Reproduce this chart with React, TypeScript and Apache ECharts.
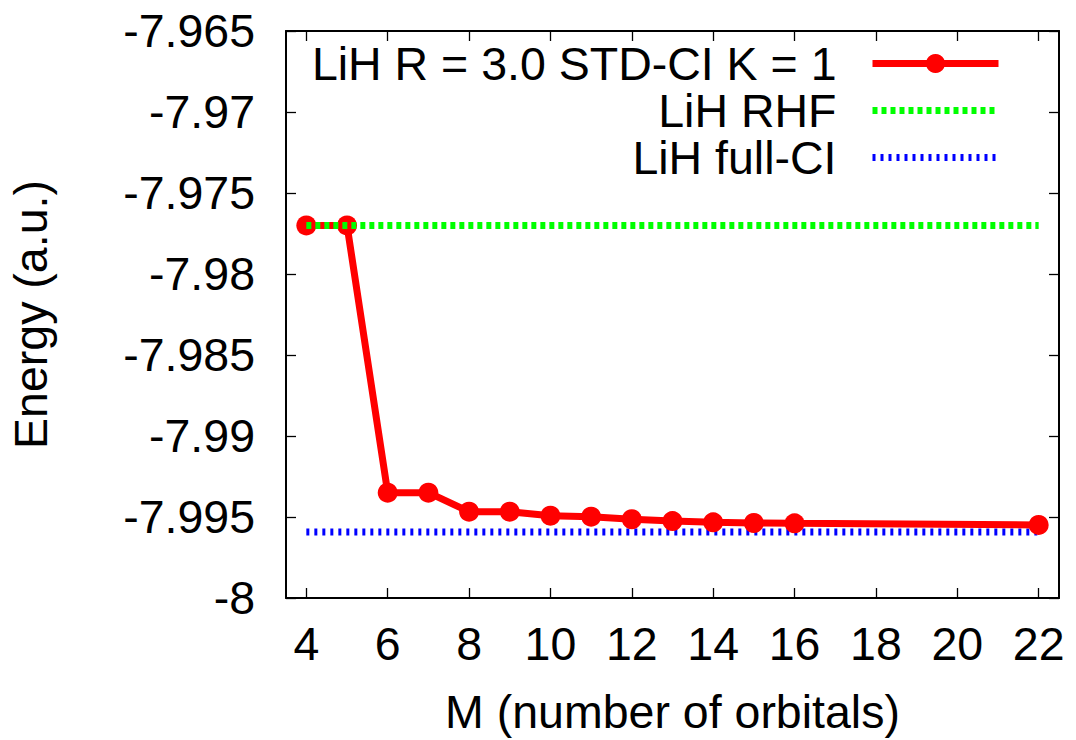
import { useEffect, useRef } from "react";
import * as echarts from "echarts";

// Number of orbitals M and the STD-CI (K = 1) energies for LiH at R = 3.0
const orbitals = [4, 5, 6, 7, 8, 9, 10, 11, 12, 13, 14, 15, 16, 22];
const stdCiEnergy = [
  -7.977, -7.977, -7.9935, -7.9935, -7.99467, -7.99467, -7.99492, -7.99498,
  -7.99514, -7.99525, -7.99533, -7.99537, -7.99539, -7.99549,
];

// Reference energies, drawn across the same M range
const referenceSpan = [4, 22];
const rhfEnergy = -7.977;
const fullCiEnergy = -7.99593;

const xTickValues = [4, 6, 8, 10, 12, 14, 16, 18, 20, 22];

const seriesNames = ["LiH R = 3.0 STD-CI K = 1", "LiH RHF", "LiH full-CI"];

const FONT = "'Liberation Sans', Arial, sans-serif";
const FONT_SIZE = 46.5;

export default function App() {
  const ref = useRef<HTMLDivElement>(null);

  useEffect(() => {
    if (!ref.current) return;
    const chart = echarts.init(ref.current, undefined, { renderer: "svg" });

    const frameLine = { show: true, lineStyle: { color: "#000", width: 2 } };
    const innerTick = (customValues?: number[]) => ({
      show: true,
      inside: true,
      length: 10,
      lineStyle: { color: "#000", width: 1.3 },
      ...(customValues ? { customValues } : {}),
    });

    const xCommon = {
      type: "value" as const,
      min: 3.5,
      max: 22.5,
      splitLine: { show: false },
      axisLine: frameLine,
    };
    const yCommon = {
      type: "value" as const,
      min: -8,
      max: -7.965,
      interval: 0.005,
      splitLine: { show: false },
      axisLine: frameLine,
    };

    chart.setOption({
      animation: false,
      backgroundColor: "#fff",
      textStyle: { fontFamily: FONT },
      grid: {
        left: 286,
        top: 31,
        right: 17,
        bottom: 142,
        containLabel: false,
        outerBoundsMode: "none",
      },
      xAxis: [
        {
          ...xCommon,
          position: "bottom",
          name: "M (number of orbitals)",
          nameLocation: "middle",
          nameGap: 90,
          nameTextStyle: { fontSize: FONT_SIZE, color: "#000", fontFamily: FONT },
          axisTick: innerTick(xTickValues),
          axisLabel: {
            customValues: xTickValues,
            margin: 22,
            fontSize: FONT_SIZE,
            color: "#000",
            fontFamily: FONT,
          },
        },
        {
          ...xCommon,
          position: "top",
          axisTick: innerTick(xTickValues),
          axisLabel: { show: false },
        },
      ],
      yAxis: [
        {
          ...yCommon,
          position: "left",
          name: "Energy (a.u.)",
          nameLocation: "middle",
          nameRotate: 90,
          nameGap: 232,
          nameTextStyle: { fontSize: FONT_SIZE, color: "#000", fontFamily: FONT },
          axisTick: innerTick(),
          axisLabel: {
            margin: 31,
            fontSize: FONT_SIZE,
            color: "#000",
            fontFamily: FONT,
            formatter: (v: number) => String(parseFloat(v.toFixed(3))),
          },
        },
        {
          ...yCommon,
          position: "right",
          axisTick: innerTick(),
          axisLabel: { show: false },
        },
      ],
      legend: {
        data: seriesNames,
        orient: "vertical",
        align: "right",
        right: 74,
        top: 40,
        padding: 0,
        itemGap: 0,
        itemWidth: 126,
        itemHeight: 24,
        lineStyle: { width: 7 },
        textStyle: {
          fontSize: FONT_SIZE,
          lineHeight: 46,
          color: "#000",
          fontFamily: FONT,
          padding: [0, 31, 0, 0],
        },
        selectedMode: false,
      },
      series: [
        {
          name: seriesNames[2],
          type: "line",
          z: 1,
          data: referenceSpan.map((m) => [m, fullCiEnergy]),
          showSymbol: false,
          symbol: "none",
          color: "#0000ff",
          itemStyle: { color: "#0000ff", opacity: 0 },
          lineStyle: { color: "#0000ff", width: 7, type: [3, 5], cap: "butt" },
        },
        {
          name: seriesNames[0],
          type: "line",
          z: 2,
          data: orbitals.map((m, i) => [m, stdCiEnergy[i]]),
          symbol: "circle",
          symbolSize: 20,
          color: "#ff0000",
          itemStyle: { color: "#ff0000" },
          lineStyle: { color: "#ff0000", width: 7 },
        },
        {
          name: seriesNames[1],
          type: "line",
          z: 3,
          data: referenceSpan.map((m) => [m, rhfEnergy]),
          showSymbol: false,
          symbol: "none",
          color: "#00ff00",
          itemStyle: { color: "#00ff00", opacity: 0 },
          lineStyle: { color: "#00ff00", width: 7, type: [5, 4], cap: "butt" },
        },
      ],
    });

    return () => chart.dispose();
  }, []);

  return (
    <div
      ref={ref}
      style={{ position: "absolute", left: 0, top: 0, width: 1076, height: 740, background: "#fff" }}
    />
  );
}
